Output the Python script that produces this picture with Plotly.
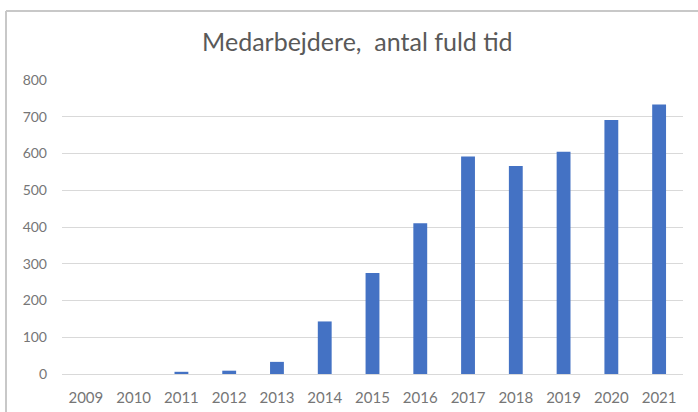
import plotly.graph_objects as go

years = ["2009", "2010", "2011", "2012", "2013", "2014", "2015",
         "2016", "2017", "2018", "2019", "2020", "2021"]
employees = [0, 0, 6, 9, 33, 143, 275, 410, 592, 566, 605, 691, 733]
y_ticks = [0, 100, 200, 300, 400, 500, 600, 700, 800]

fig = go.Figure(go.Bar(x=years, y=employees, marker_color="#4472C4",
                       marker_line_width=0))

fig.update_layout(
    width=698, height=412,
    margin=dict(l=62, r=15, t=80, b=38),
    paper_bgcolor="white", plot_bgcolor="white",
    bargap=0.71,
    showlegend=False,
    font=dict(family="Lato, Open Sans, sans-serif", color="#767676", size=15),
    title=dict(text="Medarbejdere,  antal fuld tid", x=0.512, xanchor="center",
               y=1 - 42 / 412, yanchor="middle",
               font=dict(size=25, color="#595959", family="Lato, Open Sans, sans-serif")),
    xaxis=dict(type="category", showgrid=False, showline=True, linecolor="#d9d9d9",
               linewidth=1, ticks="", ticklabelstandoff=10, tickfont=dict(size=15),
               automargin=False),
    yaxis=dict(range=[0, 800], tickvals=y_ticks, showgrid=True, gridcolor="#d9d9d9",
               gridwidth=1, zeroline=False, showline=False, ticks="",
               ticklabelstandoff=14, tickfont=dict(size=14), automargin=False),
    shapes=[
        dict(type="line", xref="paper", yref="paper",
             x0=(6 - 62) / 621, x1=1.1, y0=(374 - 11) / 294, y1=(374 - 11) / 294,
             line=dict(color="#c8c8c8", width=2)),
        dict(type="line", xref="paper", yref="paper",
             x0=(6 - 62) / 621, x1=(6 - 62) / 621, y0=(374 - 11) / 294, y1=-0.2,
             line=dict(color="#c8c8c8", width=2)),
    ],
)

fig.write_html("out.html", config={"displayModeBar": False},
               post_script="document.body.style.margin='0';document.body.style.overflow='hidden';")
